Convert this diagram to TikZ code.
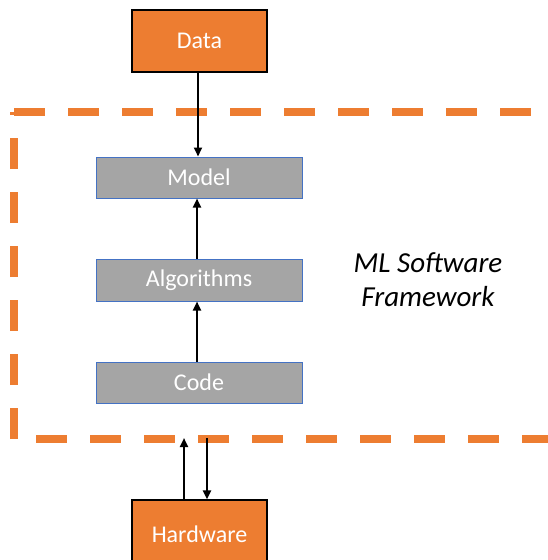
\documentclass[tikz,border=0pt]{standalone}
\usepackage{fontspec}
\setmainfont{Carlito}
\usetikzlibrary{arrows.meta}
\definecolor{orng}{HTML}{ED7D31}
\definecolor{gry}{HTML}{A5A5A5}
\definecolor{bordblue}{HTML}{4472C4}
\begin{document}
\begin{tikzpicture}[x=1pt,y=-1pt,
  orangebox/.style={draw=black,line width=1.3pt,fill=orng,text=white,font=\fontsize{24}{28}\selectfont},
  graybox/.style={draw=bordblue,line width=1pt,fill=gry,text=white,font=\fontsize{24}{28}\selectfont},
  frame/.style={draw=orng,line width=8pt,dash pattern=on 31pt off 23pt},
  arr/.style={draw=black,line width=2.2pt,-{Triangle[width=8pt,length=9pt]}}]
\useasboundingbox (0,0) rectangle (548,560);
\begin{scope}
\clip (0,0) rectangle (548,560);
% frame
\coordinate (fbl) at (14,439);
\coordinate (ftl) at (14,112);
\coordinate (ftr) at (560,112);
\coordinate (fbr) at (560,439);
\draw[frame] (fbl) -- (ftl);
\draw[frame] (ftl) -- (ftr);
\draw[frame,dash phase=32pt] (fbl) -- (fbr);
% boxes
\node[orangebox,minimum width=135pt,minimum height=62pt,inner sep=0pt] (data) at (199.5,41) {Data};
\node[graybox,minimum width=206pt,minimum height=41pt,inner sep=0pt] (model) at (199,177.5) {Model};
\node[graybox,minimum width=206pt,minimum height=42pt,inner sep=0pt] (algo) at (199,280) {Algorithms};
\node[graybox,minimum width=206pt,minimum height=41pt,inner sep=0pt] (code) at (199,382.5) {Code};
\node[orangebox,minimum width=135pt,minimum height=70pt,inner sep=0pt] (hw) at (199.5,535) {};
\node[text=white,font=\fontsize{24}{28}\selectfont,anchor=base] (hwt) at (199.5,542) {Hardware};
\node[font=\fontsize{29}{34}\selectfont\itshape,align=center] (fw) at (428,280) {ML Software\\Framework};
% arrows
\draw[arr] (data.south -| 198,0) -- (model.north -| 198,0);
\draw[arr] (code.north -| 197,0) -- (algo.south -| 197,0);
\draw[arr] (algo.north -| 197,0) -- (model.south -| 197,0);
\coordinate (fu) at (184,438);
\coordinate (fd) at (207,438);
\draw[arr] (hw.north -| fu) -- (fu);
\draw[arr] (fd) -- (hw.north -| fd);
\end{scope}
\end{tikzpicture}
\end{document}
